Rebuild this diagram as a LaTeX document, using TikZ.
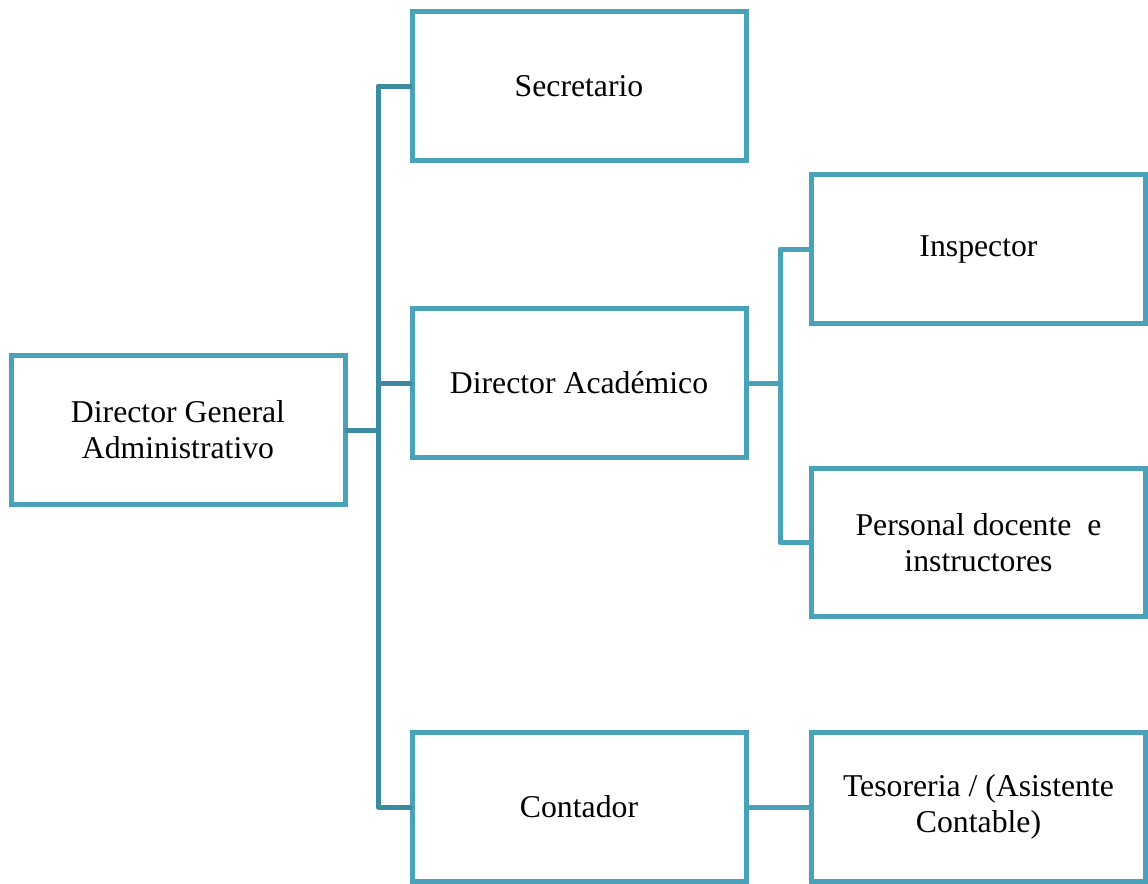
\documentclass[tikz,border=0pt]{standalone}
\usepackage{fontspec}
\setmainfont{Liberation Serif}
\definecolor{boxline}{HTML}{4AA2B9}
\definecolor{trunkline}{HTML}{3B8CA1}
\begin{document}
\begin{tikzpicture}[x=0.75pt,y=-0.75pt,
  orgbox/.style={draw=boxline, line width=3.75pt, fill=white, rectangle,
    minimum width=250.5pt, minimum height=111.5pt, inner sep=0pt, outer sep=0pt,
    align=center, font=\fontsize{23.8}{27}\selectfont},
  mainconn/.style={draw=trunkline, line width=3.75pt, line join=round},
  subconn/.style={draw=boxline, line width=3.75pt, line join=round}]
\useasboundingbox (0,0) rectangle (1148,883);

% first-level connectors from the general director
\coordinate (ta) at (378,86);
\coordinate (tb) at (378,807);
% second-level trunk from the academic director
\coordinate (sa) at (780,249);
\coordinate (sb) at (780,542.5);

\node[orgbox] (dg)   at (178,430)   {Director General\\Administrativo};
\node[orgbox] (sec)  at (579,86)    {Secretario};
\node[orgbox] (da)   at (579,383)   {Director Académico};
\node[orgbox] (cont) at (579,807)   {Contador};
\node[orgbox] (insp) at (978.5,249) {Inspector};
\node[orgbox] (pers) at (978.5,542.5) {Personal docente~ e\\instructores};
\node[orgbox] (tes)  at (978.5,807) {Tesoreria / (Asistente\\Contable)};

\draw[mainconn] (sec.west) -- (ta) -- (tb) -- (cont.west);
\draw[mainconn] (dg.east) -- (dg.east -| ta);
\draw[mainconn] (da.west) -- (da.west -| ta);

\draw[subconn] (insp.west) -- (sa) -- (sb) -- (pers.west);
\draw[subconn] (da.east) -- (da.east -| sa);
\draw[subconn] (cont.east) -- (tes.west);
\end{tikzpicture}
\end{document}
